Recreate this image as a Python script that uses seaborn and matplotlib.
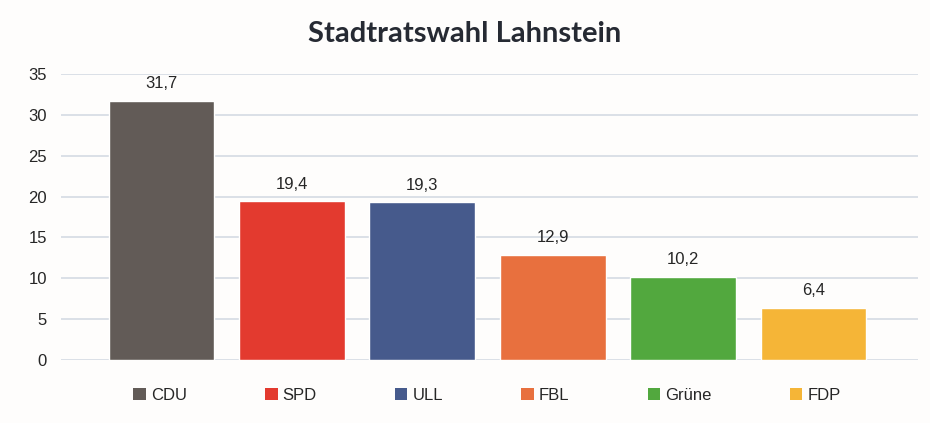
import pandas as pd
import seaborn as sns
import matplotlib.pyplot as plt
from matplotlib.patches import Patch

# Data
parties = ["CDU", "SPD", "ULL", "FBL", "Grüne", "FDP"]
shares = [31.7, 19.4, 19.3, 12.9, 10.2, 6.4]
colors = ["#625b57", "#e33a2f", "#465a8c", "#e8703e", "#52a83e", "#f5b537"]

df = pd.DataFrame({"Partei": parties, "Anteil": shares})

sns.set_style("white")
plt.rcParams["font.family"] = ["Liberation Sans", "DejaVu Sans"]

fig = plt.figure(figsize=(9.3, 4.23), dpi=100, facecolor="#fefdfc")
ax = fig.add_axes([0.0656, 0.149, 0.9214, 0.676])
ax.set_facecolor("#fefdfc")

sns.barplot(data=df, x="Partei", y="Anteil", hue="Partei", palette=colors,
            saturation=1, width=0.81, legend=False, ax=ax)

for c in ax.containers:
    ax.bar_label(c, labels=[f"{v:.1f}".replace(".", ",") for v in c.datavalues],
                 padding=7, fontsize=12, color="#262626")

ax.set_ylim(0, 35)
ax.set_yticks(range(0, 36, 5))
ax.set_xlim(-0.77, 5.8)
ax.set_xticks([])
ax.set_xlabel("")
ax.set_ylabel("")
ax.yaxis.grid(True, color="#d5dbe3", linewidth=1.2)
ax.set_axisbelow(True)
for s in ax.spines.values():
    s.set_visible(False)
ax.tick_params(axis="y", length=0, labelsize=12, labelcolor="#262626", pad=10)

handles = [Patch(facecolor=col, edgecolor="none", label=p) for p, col in zip(parties, colors)]
ax.legend(handles=handles, loc="upper center", bbox_to_anchor=(0.497, -0.045), ncol=6,
          frameon=False, fontsize=12, handlelength=0.75, handleheight=0.75,
          handletextpad=0.3, columnspacing=4.7, labelcolor="#262626")

fig.suptitle("Stadtratswahl Lahnstein", fontsize=21, fontweight="bold",
             color="#262a33", family=["Lato", "DejaVu Sans"], y=0.95)

fig.savefig("out.png", dpi=100, facecolor=fig.get_facecolor())
